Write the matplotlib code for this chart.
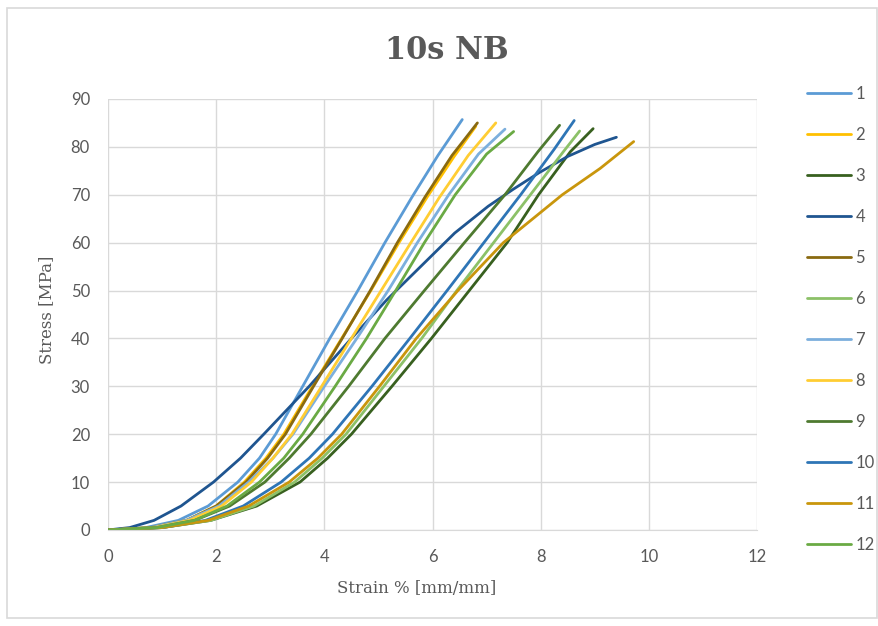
import matplotlib.pyplot as plt
from matplotlib.patches import Rectangle

# ---- data: strain [%] and stress [MPa] per specimen ----
s1_x = [0, 0.7, 1.3, 1.85, 2.4, 2.8, 3.1, 3.6, 4.1, 4.62, 5.12, 5.62, 6.1, 6.55]
s1_y = [0, 0.5, 2, 5, 10, 15, 20, 30, 40, 50, 60, 69.5, 78.2, 85.7]
s2_x = [0, 0.8, 1.45, 2.0, 2.52, 2.92, 3.25, 3.78, 4.32, 4.86, 5.38, 5.9, 6.4, 6.8]
s2_y = [0, 0.5, 2, 5, 10, 15, 20, 30, 40, 50, 60, 69.5, 78, 84.3]
s3_x = [0, 1.0, 1.9, 2.75, 3.55, 4.06, 4.5, 5.25, 5.98, 6.68, 7.38, 7.96, 8.55, 8.97]
s3_y = [0, 0.5, 2, 5, 10, 15, 20, 30, 40, 50, 60, 70, 79, 83.8]
s4_x = [0, 0.4, 0.85, 1.35, 1.95, 2.45, 2.88, 3.3, 3.72, 4.5, 5.15, 5.78, 6.41, 7.03, 7.5, 7.97, 8.5, 9.0, 9.4]
s4_y = [0, 0.5, 2, 5, 10, 15, 20, 25, 30, 40, 48, 55, 62, 67.6, 71.2, 74.6, 78, 80.5, 82]
s5_x = [0, 0.8, 1.45, 2.0, 2.55, 2.95, 3.28, 3.8, 4.33, 4.85, 5.35, 5.86, 6.36, 6.83]
s5_y = [0, 0.5, 2, 5, 10, 15, 20, 30, 40, 50, 60, 69.5, 78.2, 85.0]
s6_x = [0, 1.0, 1.9, 2.7, 3.45, 3.96, 4.4, 5.1, 5.8, 6.45, 7.13, 7.81, 8.42, 8.72]
s6_y = [0, 0.5, 2, 5, 10, 15, 20, 30, 40, 50, 60, 70, 79, 83.3]
s7_x = [0, 0.8, 1.45, 2.05, 2.6, 3.05, 3.42, 4.0, 4.6, 5.18, 5.72, 6.3, 6.85, 7.34]
s7_y = [0, 0.5, 2, 5, 10, 15, 20, 30, 40, 50, 60, 70, 78.5, 83.7]
s8_x = [0, 0.85, 1.5, 2.1, 2.65, 3.05, 3.4, 3.95, 4.5, 5.05, 5.6, 6.13, 6.66, 7.17]
s8_y = [0, 0.5, 2, 5, 10, 15, 20, 30, 40, 50, 60, 69.5, 78.2, 85.0]
s9_x = [0, 0.9, 1.6, 2.25, 2.9, 3.35, 3.75, 4.45, 5.12, 5.85, 6.59, 7.34, 7.95, 8.35]
s9_y = [0, 0.5, 2, 5, 10, 15, 20, 30, 40, 50, 60, 70, 79, 84.5]
s10_x = [0, 1.0, 1.8, 2.5, 3.2, 3.72, 4.15, 4.88, 5.58, 6.27, 6.95, 7.63, 8.25, 8.62]
s10_y = [0, 0.5, 2, 5, 10, 15, 20, 30, 40, 50, 60, 70, 79.5, 85.5]
s11_x = [0, 1.0, 1.85, 2.6, 3.35, 3.88, 4.32, 5.02, 5.7, 6.47, 7.31, 7.66, 8.4, 9.1, 9.72]
s11_y = [0, 0.5, 2, 5, 10, 15, 20, 30, 40, 50, 60, 63.2, 70, 75.5, 81.1]
s12_x = [0, 0.9, 1.6, 2.2, 2.8, 3.25, 3.6, 4.2, 4.78, 5.32, 5.85, 6.42, 7.0, 7.5]
s12_y = [0, 0.5, 2, 5, 10, 15, 20, 30, 40, 50, 60, 70, 78.5, 83.2]

labels = ['1', '2', '3', '4', '5', '6', '7', '8', '9', '10', '11', '12']
colors = ['#5B9BD5', '#FFC000', '#38601F', '#1F5590', '#8A6A10', '#8CC168',
          '#7CAFDD', '#FFCD33', '#4E7A30', '#2E75B6', '#C9960C', '#6AAA44']

series = [(s1_x, s1_y), (s2_x, s2_y), (s3_x, s3_y), (s4_x, s4_y), (s5_x, s5_y),
          (s6_x, s6_y), (s7_x, s7_y), (s8_x, s8_y), (s9_x, s9_y), (s10_x, s10_y),
          (s11_x, s11_y), (s12_x, s12_y)]

grey = '#595959'
sans = ['Lato', 'DejaVu Sans']
serif = ['DejaVu Serif']
plt.rcParams['font.family'] = sans

fig = plt.figure(figsize=(8.79, 6.26), dpi=100)
fig.patches.append(Rectangle((0.008, 0.012), 0.99, 0.976, transform=fig.transFigure,
                             fill=False, edgecolor='#D9D9D9', linewidth=1.2))

ax = fig.add_axes([0.1229, 0.1534, 0.7383, 0.6885])
for (x, y), lab, c in zip(series, labels, colors):
    ax.plot(x, y, color=c, linewidth=2.0, label=lab,
            solid_capstyle='round', solid_joinstyle='round')

ax.set_xlim(0, 12)
ax.set_ylim(0, 90)
ax.set_xticks(range(0, 13, 2))
ax.set_yticks(range(0, 91, 10))
ax.grid(True, color='#D9D9D9', linewidth=1.0)
ax.set_axisbelow(True)
for sp in ['top', 'right', 'left']:
    ax.spines[sp].set_visible(False)
ax.spines['bottom'].set_color('#D9D9D9')
ax.tick_params(length=0, labelsize=12, labelcolor=grey)
ax.tick_params(axis='x', pad=14)
ax.tick_params(axis='y', pad=13)

ax.set_xlabel('Strain % [mm/mm]', fontsize=12, color=grey, family=serif)
ax.set_ylabel('Stress [MPa]', fontsize=12, color=grey, family=serif)
ax.xaxis.set_label_coords(0.475, -0.115)
ax.yaxis.set_label_coords(-0.082, 0.51)
fig.text(0.5085, 0.92, '10s NB', ha='center', va='center', fontsize=22,
         fontweight='bold', color=grey, family=serif)

ax.legend(loc='upper left', bbox_to_anchor=(1.054, 1.066), frameon=False,
          fontsize=12, handlelength=2.65, handletextpad=0.25, labelspacing=1.5,
          labelcolor=grey)

fig.savefig('out.png', dpi=100)
